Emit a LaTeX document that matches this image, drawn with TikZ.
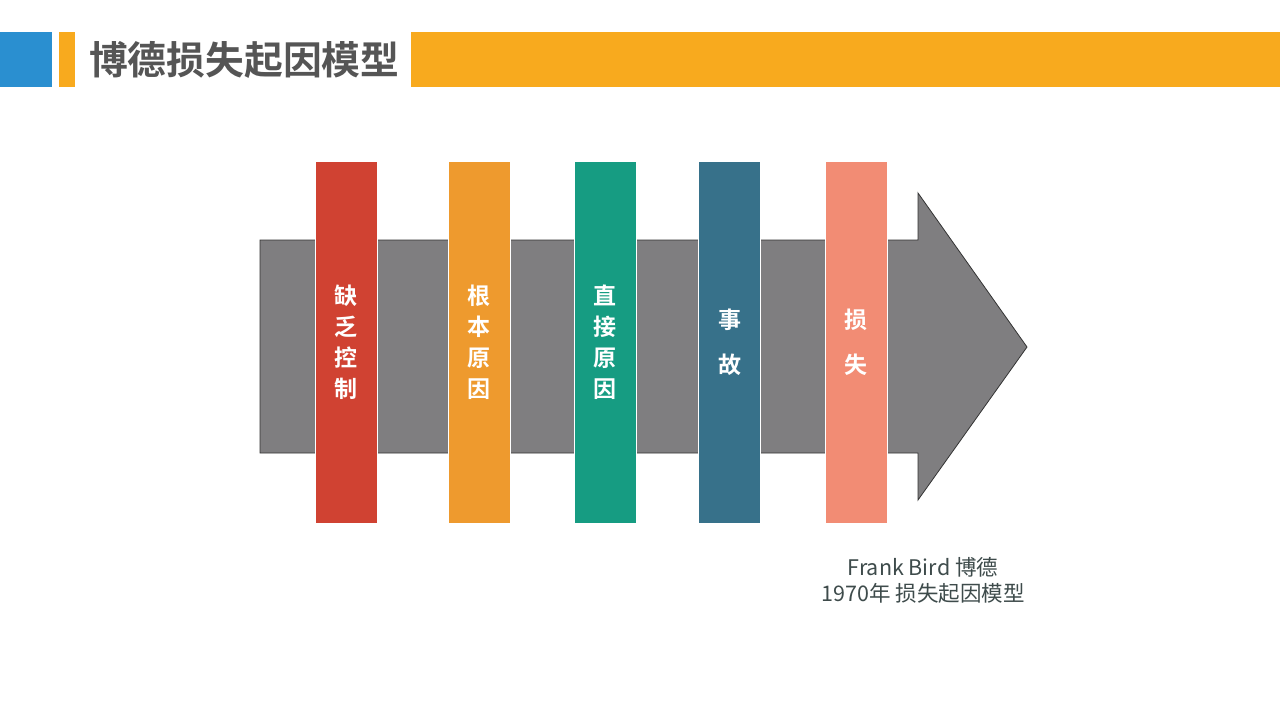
\documentclass[tikz,border=0pt]{standalone}
\usepackage{fontspec}
\setmainfont{Noto Sans}
\newfontfamily\cjk{Noto Sans CJK SC}
\newfontfamily\cjkb{Noto Sans CJK SC Bold}
\definecolor{hblue}{HTML}{2A8FD0}
\definecolor{horange}{HTML}{F8AA1E}
\definecolor{titlegray}{HTML}{555555}
\definecolor{arrgray}{HTML}{7F7E80}
\definecolor{cred}{HTML}{D04232}
\definecolor{corange}{HTML}{EE9A2E}
\definecolor{cteal}{HTML}{169C82}
\definecolor{cdteal}{HTML}{37718A}
\definecolor{csalmon}{HTML}{F28C74}
\definecolor{notegray}{HTML}{3E4B4B}
\tikzset{
  bar/.style={draw=white, line width=0.8pt, minimum width=62pt, minimum height=362pt, inner sep=0pt, text=white, align=center},
  four/.style={font=\fontsize{23}{31}\selectfont\cjkb},
  two/.style={font=\fontsize{23}{45}\selectfont\cjkb},
  hdr/.style={inner sep=0pt, outer sep=0pt},
}
\begin{document}
\begin{tikzpicture}[x=1pt,y=-1pt]
\useasboundingbox (0,0) rectangle (1280,720);
\fill[white] (0,0) rectangle (1280,720);
% header
\fill[hblue] (0,32) rectangle (52,87);
\fill[horange] (59,32) rectangle (75,87);
\fill[horange] (411,32) rectangle (1280,87);
\node[hdr, anchor=west, text=titlegray, font=\fontsize{38.8}{42}\selectfont\cjkb] (title) at (89,60) {博德损失起因模型};
% big arrow
\draw[fill=arrgray, draw=black!80, line width=0.8pt, line join=miter]
  (260,240) -- (918,240) -- (918,193) -- (1027,347) -- (918,500) -- (918,453) -- (260,453) -- cycle;
% bars
\node[bar, four, fill=cred] (b1) at (346,342) {缺\\乏\\控\\制};
\node[bar, four, fill=corange] (b2) at (479,342) {根\\本\\原\\因};
\node[bar, four, fill=cteal] (b3) at (605,342) {直\\接\\原\\因};
\node[bar, two, fill=cdteal] (b4) at (729.5,342) {事\\故};
\node[bar, two, fill=csalmon] (b5) at (856,342) {损\\失};
% note
\node[text=notegray, align=center, inner sep=0pt, font=\fontsize{21.5}{26}\selectfont\cjk] (note) at (923,580) {Frank Bird 博德\\1970年 损失起因模型};
\end{tikzpicture}
\end{document}
